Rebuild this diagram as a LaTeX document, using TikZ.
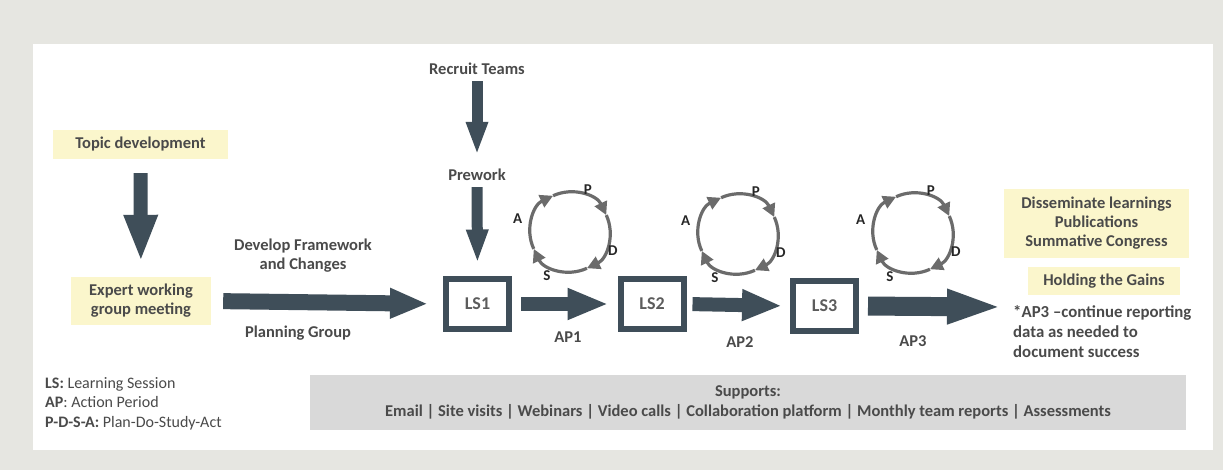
\documentclass[tikz,border=0pt]{standalone}
\usepackage{fontspec}
\setmainfont{Carlito}
\usetikzlibrary{arrows.meta}
\definecolor{bggray}{HTML}{E6E6E1}
\definecolor{paleyel}{HTML}{FBF6CC}
\definecolor{slate}{HTML}{3F4E59}
\definecolor{supgray}{HTML}{D9D9D9}
\definecolor{txtgray}{HTML}{4A4A4A}
\definecolor{cycgray}{HTML}{6B6B6B}

\begin{document}
\begin{tikzpicture}[x=1pt,y=1pt,line join=miter,
  lab/.style={font=\bfseries\fontsize{16.5}{19}\selectfont,text=txtgray,align=center,inner sep=0pt},
  yelbox/.style={lab,fill=paleyel},
  lsbox/.style={draw=slate,line width=6pt,minimum width=63pt,minimum height=49pt,inner sep=0pt,
    font=\bfseries\fontsize{18}{20}\selectfont,text=txtgray!90},
  fatarrow/.style n args={3}{slate,line width=#1,-{Triangle[width=#2,length=#3]}},
  cycarr/.style={cycgray,line width=3.2pt,-{Triangle[width=13pt,length=13pt]}},
  cyclab/.style={font=\bfseries\fontsize{15}{15}\selectfont,text=black!85,inner sep=0pt},
  supbox/.style={fill=supgray,minimum width=876pt,minimum height=55pt,inner sep=0pt,align=center,
    font=\bfseries\fontsize{16.5}{20}\selectfont,text=txtgray}]
\useasboundingbox (0,0) rectangle (1223,-470);
\fill[bggray] (0,0) rectangle (1223,-470);
\fill[white] (33,-44) rectangle (1213,-450);
%\draw[help lines,step=50] (0,0) grid (1223,-470);

% left part
\node[yelbox,minimum width=175pt,minimum height=29pt] (topic) at (140.5,-144.5) {Topic development};
\node[yelbox,minimum width=140pt,minimum height=48pt] (expert) at (141,-301) {Expert working\\group meeting};
\node[lab] (frame) at (303,-255.5) {Develop Framework\\and Changes};
\node[lab] (plan) at (298,-333) {Planning Group};
\node[lab] (recruit) at (477,-69) {Recruit Teams};
\node[lab] (prework) at (477,-175) {Prework};

% learning sessions
\node[lsbox] (ls1) at (477.5,-304) {LS1};
\node[lsbox] (ls2) at (652,-304) {LS2};
\node[lsbox] (ls3) at (824.5,-306) {LS3};
\coordinate (ap3end) at (1003,-307);
\node[lab] (ap1) at (568,-337) {AP1};
\node[lab] (ap2) at (740,-342) {AP2};
\node[lab] (ap3) at (913,-341) {AP3};

% right part
\node[yelbox,minimum width=185pt,minimum height=69pt] (dissem) at (1096.5,-223.5) {Disseminate learnings\\Publications\\Summative Congress};
\node[yelbox,minimum width=152pt,minimum height=28pt] (gains) at (1104,-281) {Holding the Gains};
\node[lab,align=left,anchor=west,font=\bfseries\fontsize{16.8}{20}\selectfont] (note) at (1013,-332)
  {*AP3 \textendash continue reporting\\data as needed to\\document success};

% legend and supports
\node[anchor=west,align=left,inner sep=0pt,text=txtgray,font=\fontsize{16}{19.5}\selectfont] (legend) at (45,-403.5)
  {\textbf{LS:} Learning Session\\\textbf{AP}: Action Period\\\textbf{P-D-S-A:} Plan-Do-Study-Act};
\node[supbox] (supports) at (748,-402.5)
  {Supports:\\Email \textbar{} Site visits \textbar{} Webinars \textbar{} Video calls \textbar{} Collaboration platform \textbar{} Monthly team reports \textbar{} Assessments};

% arrows
\draw[fatarrow={14pt}{31pt}{47pt},shorten <=14pt,shorten >=15pt] (topic) -- (expert);
\draw[fatarrow={16pt}{28pt}{38pt},shorten <=12pt,shorten >=15pt] (expert.east) -- (ls1.west);
\draw[fatarrow={11pt}{20pt}{33pt},shorten <=6pt,shorten >=14pt] (recruit.south) -- (prework.north);
\draw[fatarrow={11pt}{20pt}{34pt},shorten <=6pt,shorten >=13pt] (prework.south) -- (ls1.north);
\draw[fatarrow={14pt}{29pt}{41pt},shorten <=9pt,shorten >=9pt] (ls1.east) -- (ls2.west);
\draw[fatarrow={14pt}{29pt}{40pt},shorten <=6pt,shorten >=8pt] (ls2.east) -- (ls3.west);
\draw[fatarrow={19pt}{31pt}{56pt},shorten <=9pt] (ls3.east) -- (ap3end);

% PDSA cycles
\coordinate (c1) at (570,-232);
\coordinate (c2) at (738,-234);
\coordinate (c3) at (913,-233);
\foreach \c in {c1,c2,c3}{
  \foreach \a in {205,115,25,-65}
    \draw[cycarr] ([shift={(\a:40)}]\c) arc[start angle=\a,delta angle=-90,radius=40];
  \node[cyclab] (P\c) at ([shift={(67:46)}]\c) {P};
  \node[cyclab] (A\c) at ([shift={(166:54)}]\c) {A};
  \node[cyclab] (D\c) at ([shift={(-24:47)}]\c) {D};
  \node[cyclab] (S\c) at ([shift={(-118:49)}]\c) {S};
}
\end{tikzpicture}
\end{document}
